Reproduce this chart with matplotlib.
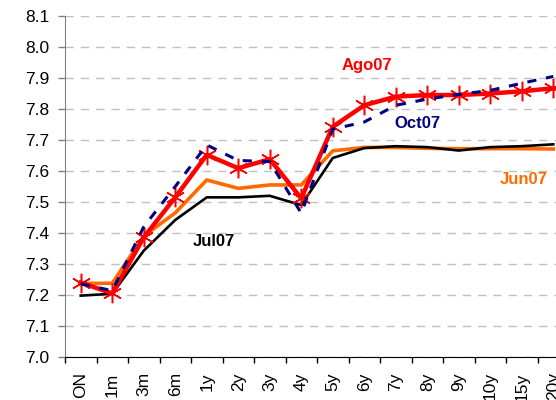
import matplotlib
matplotlib.use("Agg")
import matplotlib.pyplot as plt
import numpy as np

plt.rcParams["font.family"] = ["Liberation Sans", "DejaVu Sans"]

tenors = ["ON", "1m", "3m", "6m", "1y", "2y", "3y", "4y",
          "5y", "6y", "7y", "8y", "9y", "10y", "15y", "20y"]

jun07 = [7.237, 7.238, 7.39, 7.465, 7.571, 7.544, 7.555, 7.555,
         7.665, 7.676, 7.676, 7.673, 7.672, 7.672, 7.672, 7.671]
jul07 = [7.198, 7.204, 7.343, 7.442, 7.515, 7.515, 7.52, 7.49,
         7.642, 7.674, 7.68, 7.677, 7.666, 7.677, 7.68, 7.686]
ago07 = [7.24, 7.205, 7.386, 7.515, 7.652, 7.609, 7.638, 7.512,
         7.743, 7.812, 7.84, 7.845, 7.845, 7.85, 7.857, 7.867]
oct07 = [7.236, 7.214, 7.42, 7.55, 7.684, 7.634, 7.63, 7.464,
         7.735, 7.758, 7.812, 7.832, 7.847, 7.86, 7.883, 7.905]

RED    = "#ff0000"
ORANGE = "#ff6a00"
NAVY   = "#000080"

fig = plt.figure(figsize=(5.56, 4.0), dpi=100)
ax = fig.add_axes([65 / 556, 43 / 400, 504 / 556, 341 / 400])

x = np.arange(len(tenors))
ax.plot(x, jun07, color=ORANGE, lw=2.6, zorder=3)
ax.plot(x, jul07, color="black", lw=1.9, zorder=4)
ax.plot(x, ago07, color=RED, lw=3.2, marker=(6, 2, 0), ms=14, mew=1.1,
        zorder=5)
ax.plot(x, oct07, color=NAVY, lw=2.2, ls=(0, (3, 3.2)), zorder=6)

ax.set_xlim(-0.5, len(tenors) - 0.5)
ax.set_ylim(7.0, 8.1)
ax.set_yticks(np.arange(7.0, 8.101, 0.1))
ax.set_yticklabels([f"{v:.1f}" for v in np.arange(7.0, 8.101, 0.1)])
ax.set_xticks(x)
ax.set_xticklabels(tenors, rotation=90)
ax.set_xticks(np.arange(-0.5, len(tenors), 1.0), minor=True)
ax.tick_params(axis="x", which="major", length=0, pad=11, labelsize=12.5)
ax.tick_params(axis="x", which="minor", length=4, width=1, color="black")
ax.tick_params(axis="y", length=5, width=1, color="#808080", labelsize=12.5,
               pad=6)

ax.grid(True, axis="y", color="#c0c0c0", ls=(0, (6, 5)), lw=1)
ax.set_axisbelow(True)
for s in ("top", "right"):
    ax.spines[s].set_visible(False)
ax.spines["left"].set_color("#808080")
ax.spines["bottom"].set_color("black")

ax.text(9.09, 7.939, "Ago07", color=RED, fontsize=12, fontweight="bold",
        ha="center", va="center")
ax.text(10.7, 7.752, "Oct07", color=NAVY, fontsize=12, fontweight="bold",
        ha="center", va="center")
ax.text(14.07, 7.571, "Jun07", color=ORANGE, fontsize=12, fontweight="bold",
        ha="center", va="center")
ax.text(4.23, 7.371, "Jul07", color="black", fontsize=12, fontweight="bold",
        ha="center", va="center")

fig.savefig("out.png", dpi=100)
